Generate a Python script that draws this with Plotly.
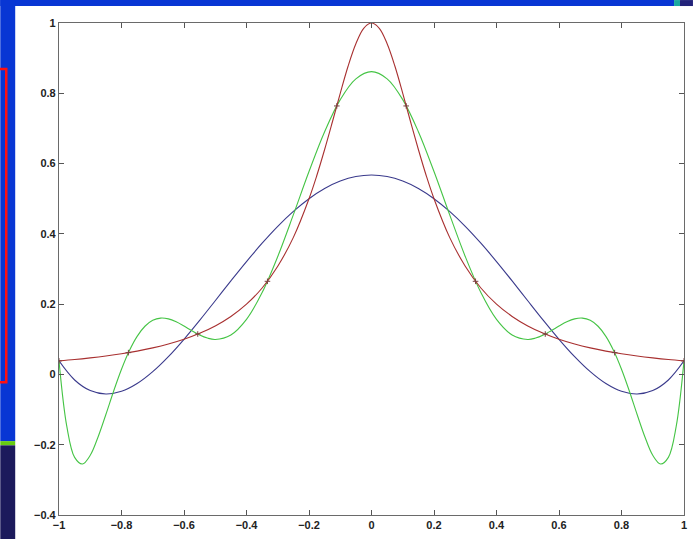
import plotly.graph_objects as go

# ---- data ----
x_red = [-1.0, -0.95, -0.9, -0.85, -0.8, -0.75, -0.7, -0.65, -0.6, -0.55, -0.5, -0.45, -0.4, -0.35, -0.3,
         -0.25, -0.2, -0.175, -0.15, -0.125, -0.1, -0.075, -0.05, -0.025, 0.0, 0.025, 0.05, 0.075, 0.1,
         0.125, 0.15, 0.175, 0.2, 0.25, 0.3, 0.35, 0.4, 0.45, 0.5, 0.55, 0.6, 0.65, 0.7, 0.75, 0.8,
         0.85, 0.9, 0.95, 1.0]
y_red = [0.0385, 0.0424, 0.0471, 0.0525, 0.0588, 0.0664, 0.0755, 0.0865, 0.100, 0.117, 0.138, 0.165, 0.200,
         0.246, 0.308, 0.390, 0.500, 0.566, 0.640, 0.719, 0.800, 0.877, 0.941, 0.985, 1.000, 0.985, 0.941,
         0.877, 0.800, 0.719, 0.640, 0.566, 0.500, 0.390, 0.308, 0.246, 0.200, 0.165, 0.138, 0.117, 0.100,
         0.0865, 0.0755, 0.0664, 0.0588, 0.0525, 0.0471, 0.0424, 0.0385]

x_blue = [-1.0, -0.95, -0.9, -0.85, -0.8, -0.75, -0.7, -0.65, -0.6, -0.55, -0.5, -0.45, -0.4, -0.35, -0.3,
          -0.25, -0.2, -0.15, -0.1, -0.05, 0.0, 0.05, 0.1, 0.15, 0.2, 0.25, 0.3, 0.35, 0.4, 0.45, 0.5,
          0.55, 0.6, 0.65, 0.7, 0.75, 0.8, 0.85, 0.9, 0.95, 1.0]
y_blue = [0.0385, -0.0158, -0.0460, -0.0558, -0.0481, -0.0260, 0.0078, 0.0506, 0.100, 0.1537, 0.2097,
          0.2661, 0.3211, 0.3733, 0.4213, 0.4638, 0.500, 0.5290, 0.5501, 0.5630, 0.5673, 0.5630, 0.5501,
          0.5290, 0.500, 0.4638, 0.4213, 0.3733, 0.3211, 0.2661, 0.2097, 0.1537, 0.100, 0.0506, 0.0078,
          -0.0260, -0.0481, -0.0558, -0.0460, -0.0158, 0.0385]

x_green = [-1.0, -0.975, -0.95, -0.925, -0.9, -0.875, -0.85, -0.825, -0.8, -0.775, -0.75, -0.725, -0.7,
           -0.675, -0.65, -0.625, -0.6, -0.575, -0.55, -0.525, -0.5, -0.45, -0.4, -0.35, -0.3, -0.25, -0.2,
           -0.15, -0.1, -0.05, 0.0, 0.05, 0.1, 0.15, 0.2, 0.25, 0.3, 0.35, 0.4, 0.45, 0.5, 0.525, 0.55,
           0.575, 0.6, 0.625, 0.65, 0.675, 0.7, 0.725, 0.75, 0.775, 0.8, 0.825, 0.85, 0.875, 0.9, 0.925,
           0.95, 0.975, 1.0]
y_green = [0.0385, -0.148, -0.236, -0.255, -0.230, -0.178, -0.114, -0.047, 0.0147, 0.0673, 0.1084, 0.1371,
           0.1540, 0.1603, 0.1581, 0.1497, 0.1377, 0.1244, 0.1122, 0.1034, 0.0995, 0.1122, 0.1566, 0.2330,
           0.3356, 0.4546, 0.5774, 0.6907, 0.7820, 0.8411, 0.8615, 0.8411, 0.7820, 0.6907, 0.5774, 0.4546,
           0.3356, 0.2330, 0.1566, 0.1122, 0.0995, 0.1034, 0.1122, 0.1244, 0.1377, 0.1497, 0.1581, 0.1603,
           0.1540, 0.1371, 0.1084, 0.0673, 0.0147, -0.047, -0.114, -0.178, -0.230, -0.255, -0.236, -0.148,
           0.0385]

x_nodes = [-1.0, -0.778, -0.556, -0.333, -0.111, 0.111, 0.333, 0.556, 0.778, 1.0]
y_nodes = [0.0385, 0.062, 0.115, 0.265, 0.764, 0.764, 0.265, 0.115, 0.062, 0.0385]

x_tickvals = [-1, -0.8, -0.6, -0.4, -0.2, 0, 0.2, 0.4, 0.6, 0.8, 1]
x_ticktext = ["−1", "−0.8", "−0.6", "−0.4", "−0.2", "0", "0.2", "0.4", "0.6", "0.8", "1"]
y_tickvals = [-0.4, -0.2, 0, 0.2, 0.4, 0.6, 0.8, 1]
y_ticktext = ["−0.4", "−0.2", "0", "0.2", "0.4", "0.6", "0.8", "1"]

# ---- layout geometry (pixels) ----
W, H = 696, 540
L, R, T, B = 59, 687, 23, 516


def px(x):
    return (x - L) / (R - L)


def py(y):
    return (B - y) / (B - T)


fig = go.Figure()
fig.add_trace(go.Scatter(x=x_blue, y=y_blue, mode="lines", line=dict(color="#3a3a8c", width=1.1, shape="spline"),
                         hoverinfo="skip"))
fig.add_trace(go.Scatter(x=x_green, y=y_green, mode="lines", line=dict(color="#45c445", width=1.1, shape="spline"),
                         hoverinfo="skip"))
fig.add_trace(go.Scatter(x=x_red, y=y_red, mode="lines", line=dict(color="#a83030", width=1.1, shape="spline"),
                         hoverinfo="skip"))
fig.add_trace(go.Scatter(x=x_nodes, y=y_nodes, mode="markers",
                         marker=dict(symbol="cross-thin", size=4, line=dict(color="#7a4040", width=1)),
                         hoverinfo="skip"))

shapes = [
    # top blue strip
    dict(type="rect", xref="paper", yref="paper", x0=px(0), x1=px(677), y0=py(0), y1=py(6),
         fillcolor="#0836d4", line=dict(width=0), layer="below"),
    dict(type="rect", xref="paper", yref="paper", x0=px(677), x1=px(683), y0=py(0), y1=py(6),
         fillcolor="#1aa8a0", line=dict(width=0), layer="below"),
    dict(type="rect", xref="paper", yref="paper", x0=px(683), x1=px(696), y0=py(0), y1=py(6),
         fillcolor="#22227a", line=dict(width=0), layer="below"),
    # left blue strip
    dict(type="rect", xref="paper", yref="paper", x0=px(0), x1=px(15), y0=py(0), y1=py(442),
         fillcolor="#0836d4", line=dict(width=0), layer="below"),
    # navy lower-left
    dict(type="rect", xref="paper", yref="paper", x0=px(0), x1=px(15), y0=py(446), y1=py(540),
         fillcolor="#1c1a5c", line=dict(width=0), layer="below"),
    # green line
    dict(type="rect", xref="paper", yref="paper", x0=px(0), x1=px(15), y0=py(442), y1=py(446),
         fillcolor="#66cc11", line=dict(width=0), layer="below"),
    # red rectangle outline
    dict(type="rect", xref="paper", yref="paper", x0=px(-4), x1=px(6), y0=py(69), y1=py(383),
         fillcolor="rgba(0,0,0,0)", line=dict(color="#ff1010", width=2.5), layer="below"),
]

axis_common = dict(showgrid=False, zeroline=False, showline=True, linecolor="#6a6a6a", linewidth=1.2,
                   mirror="ticks", ticks="inside", ticklen=5, tickcolor="#555555", tickwidth=1,
                   tickfont=dict(family="Liberation Sans, Arial, sans-serif", size=11, color="#222222",
                                 weight="bold"))

fig.update_layout(
    width=W, height=H,
    margin=dict(l=L, r=W - R, t=T, b=H - B),
    paper_bgcolor="white", plot_bgcolor="white",
    showlegend=False,
    shapes=shapes,
    xaxis=dict(range=[-1, 1], tickmode="array", tickvals=x_tickvals, ticktext=x_ticktext, **axis_common),
    yaxis=dict(range=[-0.4, 1], tickmode="array", tickvals=y_tickvals, ticktext=y_ticktext, **axis_common),
)

fig.write_html("out.html")
